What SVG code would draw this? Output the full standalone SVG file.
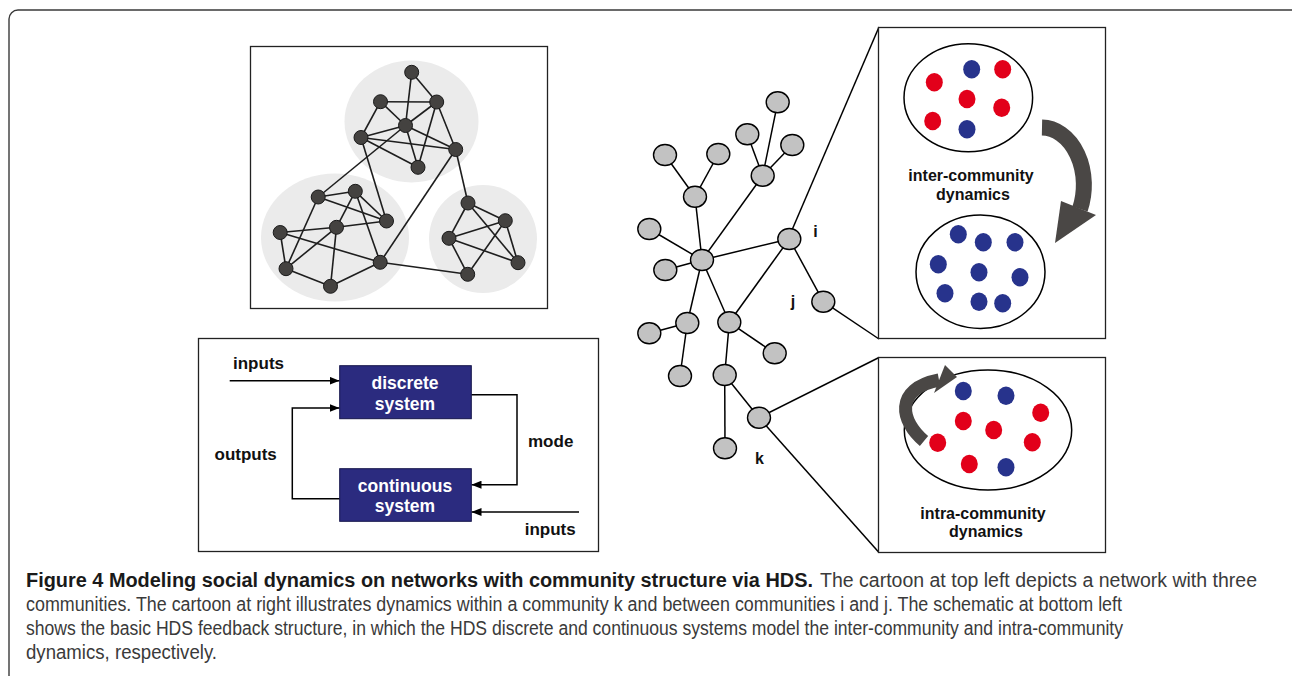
<svg xmlns="http://www.w3.org/2000/svg" width="1292" height="676" viewBox="0 0 1292 676">
  <style>
    .frame { fill: none; stroke: #3a3a3a; stroke-width: 1.4; }
    .panel { fill: #ffffff; stroke: #222; stroke-width: 1.3; }
    .community { fill: #ebebeb; }
    .edge { stroke: #1e1e1e; stroke-width: 1.6; fill: none; }
    .vertex { fill: #444240; stroke: #1a1a1a; stroke-width: 1; }
    .tree-edge { stroke: #000; stroke-width: 1.5; fill: none; }
    .tree-node { fill: #c2c2c2; stroke: #000; stroke-width: 1.4; }
    .wire { stroke: #000; stroke-width: 1.5; fill: none; }
    .box { fill: #2b2b7f; stroke: #15154a; stroke-width: 1; }
    .boxtxt { font-family: "Liberation Sans", Arial, sans-serif; font-weight: bold; font-size: 17.5px; fill: #fff; text-anchor: middle; }
    .lbl { font-family: "Liberation Sans", Arial, sans-serif; font-weight: bold; font-size: 17px; fill: #111; }
    .plbl { font-family: "Liberation Sans", Arial, sans-serif; font-weight: bold; font-size: 16px; fill: #111; text-anchor: middle; }
    .ring { fill: #fff; stroke: #000; stroke-width: 1.5; }
    .red { fill: #e2001a; }
    .blue { fill: #27338c; }
    .bend { fill: none; stroke: #4a4745; }
    .head { fill: #4a4745; }
    .cap-b { font-family: "Liberation Sans", Arial, sans-serif; font-weight: bold; font-size: 19.5px; fill: #1a1a1a; }
    .cap { font-family: "Liberation Sans", Arial, sans-serif; font-size: 19.5px; fill: #3a3a3a; }
  </style>
  <defs>
    <marker id="tip" markerUnits="userSpaceOnUse" markerWidth="10" markerHeight="8" refX="10" refY="4" orient="auto">
      <path d="M0,0 L10,4 L0,8 z" fill="#000"/>
    </marker>
  </defs>

  <!-- outer figure frame -->
  <rect class="frame" x="9" y="10" width="1292" height="700" rx="9"/>

  <!-- ===== network with three communities ===== -->
  <g id="network-panel">
    <rect class="panel" x="250.5" y="46.5" width="297" height="262" stroke="#333"/>
    <ellipse class="community" cx="411.5" cy="121.5" rx="67" ry="61"/>
    <ellipse class="community" cx="335" cy="237.5" rx="74" ry="64"/>
    <ellipse class="community" cx="483" cy="239" rx="54" ry="54"/>
  </g>
  <g id="network-edges">
    <!-- top community -->
    <line class="edge" x1="411.7" y1="72.3" x2="436.7" y2="102"/>
    <line class="edge" x1="411.7" y1="72.3" x2="405.5" y2="125.5"/>
    <line class="edge" x1="380.5" y1="101.7" x2="436.7" y2="102"/>
    <line class="edge" x1="380.5" y1="101.7" x2="361" y2="137.5"/>
    <line class="edge" x1="380.5" y1="101.7" x2="405.5" y2="125.5"/>
    <line class="edge" x1="436.7" y1="102" x2="405.5" y2="125.5"/>
    <line class="edge" x1="436.7" y1="102" x2="418" y2="167.3"/>
    <line class="edge" x1="436.7" y1="102" x2="455.7" y2="149.5"/>
    <line class="edge" x1="405.5" y1="125.5" x2="361" y2="137.5"/>
    <line class="edge" x1="405.5" y1="125.5" x2="455.7" y2="149.5"/>
    <line class="edge" x1="405.5" y1="125.5" x2="418" y2="167.3"/>
    <line class="edge" x1="361" y1="137.5" x2="455.7" y2="149.5"/>
    <line class="edge" x1="361" y1="137.5" x2="418" y2="167.3"/>
    <!-- links between communities -->
    <line class="edge" x1="405.5" y1="125.5" x2="318.2" y2="197"/>
    <line class="edge" x1="361" y1="137.5" x2="386.5" y2="221"/>
    <line class="edge" x1="455.7" y1="149.5" x2="380.2" y2="262.3"/>
    <line class="edge" x1="455.7" y1="149.5" x2="468" y2="203"/>
    <line class="edge" x1="380.2" y1="262.3" x2="467.7" y2="274.3"/>
    <!-- lower-left community -->
    <line class="edge" x1="318.2" y1="197" x2="355.3" y2="191.3"/>
    <line class="edge" x1="318.2" y1="197" x2="386.5" y2="221"/>
    <line class="edge" x1="318.2" y1="197" x2="286" y2="268.7"/>
    <line class="edge" x1="355.3" y1="191.3" x2="386.5" y2="221"/>
    <line class="edge" x1="355.3" y1="191.3" x2="380.2" y2="262.3"/>
    <line class="edge" x1="355.3" y1="191.3" x2="336.5" y2="227.3"/>
    <line class="edge" x1="336.5" y1="227.3" x2="286" y2="268.7"/>
    <line class="edge" x1="280.2" y1="232.5" x2="336.5" y2="227.3"/>
    <line class="edge" x1="336.5" y1="227.3" x2="386.5" y2="221"/>
    <line class="edge" x1="280.2" y1="232.5" x2="286" y2="268.7"/>
    <line class="edge" x1="280.2" y1="232.5" x2="380.2" y2="262.3"/>
    <line class="edge" x1="336.5" y1="227.3" x2="330.5" y2="286.3"/>
    <line class="edge" x1="286" y1="268.7" x2="330.5" y2="286.3"/>
    <line class="edge" x1="330.5" y1="286.3" x2="380.2" y2="262.3"/>
    <!-- right community -->
    <line class="edge" x1="468" y1="203" x2="505.3" y2="220.7"/>
    <line class="edge" x1="468" y1="203" x2="449" y2="238.3"/>
    <line class="edge" x1="468" y1="203" x2="518" y2="262.7"/>
    <line class="edge" x1="505.3" y1="220.7" x2="449" y2="238.3"/>
    <line class="edge" x1="505.3" y1="220.7" x2="518" y2="262.7"/>
    <line class="edge" x1="505.3" y1="220.7" x2="467.7" y2="274.3"/>
    <line class="edge" x1="449" y1="238.3" x2="518" y2="262.7"/>
    <line class="edge" x1="449" y1="238.3" x2="467.7" y2="274.3"/>
  </g>
  <g id="net-a"><circle class="vertex" cx="411.7" cy="72.3" r="7"/></g>
  <g id="net-b"><circle class="vertex" cx="380.5" cy="101.7" r="7"/></g>
  <g id="net-c"><circle class="vertex" cx="436.7" cy="102" r="7"/></g>
  <g id="net-d"><circle class="vertex" cx="405.5" cy="125.5" r="7"/></g>
  <g id="net-e"><circle class="vertex" cx="361" cy="137.5" r="7"/></g>
  <g id="net-f"><circle class="vertex" cx="455.7" cy="149.5" r="7"/></g>
  <g id="net-g"><circle class="vertex" cx="418" cy="167.3" r="7"/></g>
  <g id="net-h"><circle class="vertex" cx="318.2" cy="197" r="7"/></g>
  <g id="net-i"><circle class="vertex" cx="355.3" cy="191.3" r="7"/></g>
  <g id="net-j"><circle class="vertex" cx="386.5" cy="221" r="7"/></g>
  <g id="net-k"><circle class="vertex" cx="336.5" cy="227.3" r="7"/></g>
  <g id="net-l"><circle class="vertex" cx="280.2" cy="232.5" r="7"/></g>
  <g id="net-m"><circle class="vertex" cx="286" cy="268.7" r="7"/></g>
  <g id="net-n"><circle class="vertex" cx="330.5" cy="286.3" r="7"/></g>
  <g id="net-o"><circle class="vertex" cx="380.2" cy="262.3" r="7"/></g>
  <g id="net-p"><circle class="vertex" cx="468" cy="203" r="7"/></g>
  <g id="net-q"><circle class="vertex" cx="505.3" cy="220.7" r="7"/></g>
  <g id="net-r"><circle class="vertex" cx="449" cy="238.3" r="7"/></g>
  <g id="net-s"><circle class="vertex" cx="518" cy="262.7" r="7"/></g>
  <g id="net-t"><circle class="vertex" cx="467.7" cy="274.3" r="7"/></g>

  <!-- ===== HDS feedback schematic ===== -->
  <g id="hds-panel">
    <rect class="panel" x="198.5" y="338.5" width="400" height="213" stroke="#111"/>
  </g>
  <g id="hds-connectors">
    <path class="wire" d="M229.7,380.7 H339.5" marker-end="url(#tip)"/>
    <path class="wire" d="M339.7,498.7 H292.3 V408 H339.5" marker-end="url(#tip)"/>
    <path class="wire" d="M471.3,394.7 H517 V484.7 H471.5" marker-end="url(#tip)"/>
    <path class="wire" d="M579,512 H471.5" marker-end="url(#tip)"/>
  </g>
  <g id="discrete-system">
    <rect class="box" x="339.7" y="365.7" width="131.6" height="53"/>
    <text class="boxtxt" x="405" y="389">discrete</text>
    <text class="boxtxt" x="405" y="409.5">system</text>
  </g>
  <g id="continuous-system">
    <rect class="box" x="339.7" y="468.7" width="131.6" height="52.6"/>
    <text class="boxtxt" x="405" y="491.5">continuous</text>
    <text class="boxtxt" x="405" y="512">system</text>
  </g>
  <g id="hds-labels">
    <text class="lbl" x="233" y="369">inputs</text>
    <text class="lbl" x="214.5" y="460">outputs</text>
    <text class="lbl" x="528" y="447.3">mode</text>
    <text class="lbl" x="524.7" y="535.3">inputs</text>
  </g>

  <!-- ===== community tree ===== -->
  <g id="tree-connectors">
    <line class="tree-edge" x1="777.7" y1="102.3" x2="762.7" y2="175.7"/>
    <line class="tree-edge" x1="747.3" y1="134.3" x2="762.7" y2="175.7"/>
    <line class="tree-edge" x1="792.3" y1="145" x2="762.7" y2="175.7"/>
    <line class="tree-edge" x1="762.7" y1="175.7" x2="702" y2="260"/>
    <line class="tree-edge" x1="665" y1="155" x2="695" y2="196.7"/>
    <line class="tree-edge" x1="718.3" y1="154" x2="695" y2="196.7"/>
    <line class="tree-edge" x1="695" y1="196.7" x2="702" y2="260"/>
    <line class="tree-edge" x1="649.3" y1="229" x2="702" y2="260"/>
    <line class="tree-edge" x1="665.3" y1="270" x2="702" y2="260"/>
    <line class="tree-edge" x1="702" y1="260" x2="789.3" y2="239"/>
    <line class="tree-edge" x1="702" y1="260" x2="687.3" y2="323"/>
    <line class="tree-edge" x1="702" y1="260" x2="729.3" y2="322.3"/>
    <line class="tree-edge" x1="789.3" y1="239" x2="729.3" y2="322.3"/>
    <line class="tree-edge" x1="789.3" y1="239" x2="823.3" y2="301.7"/>
    <line class="tree-edge" x1="687.3" y1="323" x2="649.3" y2="333.3"/>
    <line class="tree-edge" x1="687.3" y1="323" x2="680" y2="376"/>
    <line class="tree-edge" x1="729.3" y1="322.3" x2="774.7" y2="353.3"/>
    <line class="tree-edge" x1="729.3" y1="322.3" x2="724.7" y2="375"/>
    <line class="tree-edge" x1="724.7" y1="375" x2="725" y2="448.3"/>
    <line class="tree-edge" x1="724.7" y1="375" x2="759" y2="417.7"/>
    <!-- zoom lines to the dynamics panels -->
    <line class="tree-edge" x1="792" y1="230" x2="879" y2="27"/>
    <line class="tree-edge" x1="823.3" y1="301.7" x2="879" y2="339"/>
    <line class="tree-edge" x1="759" y1="417.7" x2="879" y2="357.5"/>
    <line class="tree-edge" x1="759" y1="417.7" x2="879" y2="552.5"/>
  </g>
  <g id="tree-n1"><ellipse class="tree-node" cx="777.7" cy="102.3" rx="11.5" ry="10.5"/></g>
  <g id="tree-n2"><ellipse class="tree-node" cx="747.3" cy="134.3" rx="11.5" ry="10.5"/></g>
  <g id="tree-n3"><ellipse class="tree-node" cx="792.3" cy="145" rx="11.5" ry="10.5"/></g>
  <g id="tree-n4"><ellipse class="tree-node" cx="762.7" cy="175.7" rx="11.5" ry="10.5"/></g>
  <g id="tree-n5"><ellipse class="tree-node" cx="665" cy="155" rx="11.5" ry="10.5"/></g>
  <g id="tree-n6"><ellipse class="tree-node" cx="718.3" cy="154" rx="11.5" ry="10.5"/></g>
  <g id="tree-n7"><ellipse class="tree-node" cx="695" cy="196.7" rx="11.5" ry="10.5"/></g>
  <g id="tree-n8"><ellipse class="tree-node" cx="649.3" cy="229" rx="11.5" ry="10.5"/></g>
  <g id="tree-hub"><ellipse class="tree-node" cx="702" cy="260" rx="11.5" ry="10.5"/></g>
  <g id="tree-n9"><ellipse class="tree-node" cx="665.3" cy="270" rx="11.5" ry="10.5"/></g>
  <g id="tree-i"><ellipse class="tree-node" cx="789.3" cy="239" rx="11.5" ry="10.5"/></g>
  <g id="tree-j"><ellipse class="tree-node" cx="823.3" cy="301.7" rx="11.5" ry="10.5"/></g>
  <g id="tree-n10"><ellipse class="tree-node" cx="687.3" cy="323" rx="11.5" ry="10.5"/></g>
  <g id="tree-n11"><ellipse class="tree-node" cx="649.3" cy="333.3" rx="11.5" ry="10.5"/></g>
  <g id="tree-n12"><ellipse class="tree-node" cx="729.3" cy="322.3" rx="11.5" ry="10.5"/></g>
  <g id="tree-n13"><ellipse class="tree-node" cx="774.7" cy="353.3" rx="11.5" ry="10.5"/></g>
  <g id="tree-n14"><ellipse class="tree-node" cx="680" cy="376" rx="11.5" ry="10.5"/></g>
  <g id="tree-n15"><ellipse class="tree-node" cx="724.7" cy="375" rx="11.5" ry="10.5"/></g>
  <g id="tree-k"><ellipse class="tree-node" cx="759" cy="417.7" rx="11.5" ry="10.5"/></g>
  <g id="tree-n16"><ellipse class="tree-node" cx="725" cy="448.3" rx="11.5" ry="10.5"/></g>
  <g id="tree-labels">
    <text class="plbl" x="815.5" y="237">i</text>
    <text class="plbl" x="793" y="306.5">j</text>
    <text class="plbl" x="759.5" y="463.5">k</text>
  </g>

  <!-- ===== inter-community dynamics ===== -->
  <g id="inter-panel">
    <rect class="panel" x="878.5" y="27.5" width="227" height="311" stroke="#111"/>
    <ellipse class="ring" cx="968.3" cy="97.7" rx="64.3" ry="54"/>
    <ellipse class="red" cx="934.3" cy="82.3" rx="8.5" ry="9.2"/>
    <ellipse class="blue" cx="971.7" cy="69.3" rx="8.5" ry="9.2"/>
    <ellipse class="red" cx="1002.7" cy="69.3" rx="8.5" ry="9.2"/>
    <ellipse class="red" cx="967" cy="99" rx="8.5" ry="9.2"/>
    <ellipse class="red" cx="1001.7" cy="107.7" rx="8.5" ry="9.2"/>
    <ellipse class="red" cx="932.7" cy="121" rx="8.5" ry="9.2"/>
    <ellipse class="blue" cx="967" cy="129.3" rx="8.5" ry="9.2"/>
    <ellipse class="ring" cx="980.5" cy="271.7" rx="64.5" ry="56.7"/>
    <ellipse class="blue" cx="958.3" cy="234.3" rx="8.5" ry="9.2"/>
    <ellipse class="blue" cx="983.3" cy="242.3" rx="8.5" ry="9.2"/>
    <ellipse class="blue" cx="1015" cy="242.3" rx="8.5" ry="9.2"/>
    <ellipse class="blue" cx="938.3" cy="264.3" rx="8.5" ry="9.2"/>
    <ellipse class="blue" cx="979" cy="272.3" rx="8.5" ry="9.2"/>
    <ellipse class="blue" cx="1020" cy="277.3" rx="8.5" ry="9.2"/>
    <ellipse class="blue" cx="945" cy="293.3" rx="8.5" ry="9.2"/>
    <ellipse class="blue" cx="979" cy="301.7" rx="8.5" ry="9.2"/>
    <ellipse class="blue" cx="1002.7" cy="303.3" rx="8.5" ry="9.2"/>
    <!-- curved transition arrow -->
    <path class="bend" stroke-width="16" d="M1042,127.5 A42.5,57.5 0 0 1 1080,209"/>
    <polygon class="head" points="1061,201 1096,215 1055,243"/>
    <text class="plbl" x="971" y="180.5">inter-community</text>
    <text class="plbl" x="973" y="199.5">dynamics</text>
  </g>

  <!-- ===== intra-community dynamics ===== -->
  <g id="intra-panel">
    <rect class="panel" x="878.5" y="357.5" width="227" height="195" stroke="#111"/>
    <ellipse class="ring" cx="988" cy="430" rx="83.7" ry="60"/>
    <ellipse class="blue" cx="963.3" cy="391" rx="8.5" ry="9.2"/>
    <ellipse class="blue" cx="1006" cy="395.7" rx="8.5" ry="9.2"/>
    <ellipse class="red" cx="1040.7" cy="412.7" rx="8.5" ry="9.2"/>
    <ellipse class="red" cx="963.3" cy="421" rx="8.5" ry="9.2"/>
    <ellipse class="red" cx="993.7" cy="430" rx="8.5" ry="9.2"/>
    <ellipse class="red" cx="937.7" cy="442.7" rx="8.5" ry="9.2"/>
    <ellipse class="red" cx="1032.3" cy="442.3" rx="8.5" ry="9.2"/>
    <ellipse class="red" cx="969.3" cy="464" rx="8.5" ry="9.2"/>
    <ellipse class="blue" cx="1006" cy="467.3" rx="8.5" ry="9.2"/>
    <!-- looping arrow -->
    <path class="bend" stroke-width="13" d="M924,441 C901,422 893,389 939,380"/>
    <polygon class="head" points="945,365 957,377 934,393"/>
    <text class="plbl" x="983" y="518.5">intra-community</text>
    <text class="plbl" x="986" y="537">dynamics</text>
  </g>

  <!-- ===== caption ===== -->
  <g id="caption">
    <text class="cap-b" x="26" y="586.5" textLength="787" lengthAdjust="spacingAndGlyphs">Figure 4 Modeling social dynamics on networks with community structure via HDS.</text>
    <text class="cap" x="820" y="586.5" textLength="437" lengthAdjust="spacingAndGlyphs">The cartoon at top left depicts a network with three</text>
    <text class="cap" x="26" y="610.5" textLength="1096" lengthAdjust="spacingAndGlyphs">communities. The cartoon at right illustrates dynamics within a community k and between communities i and j. The schematic at bottom left</text>
    <text class="cap" x="26" y="635" textLength="1097" lengthAdjust="spacingAndGlyphs">shows the basic HDS feedback structure, in which the HDS discrete and continuous systems model the inter-community and intra-community</text>
    <text class="cap" x="26" y="659" textLength="191" lengthAdjust="spacingAndGlyphs">dynamics, respectively.</text>
  </g>
</svg>
